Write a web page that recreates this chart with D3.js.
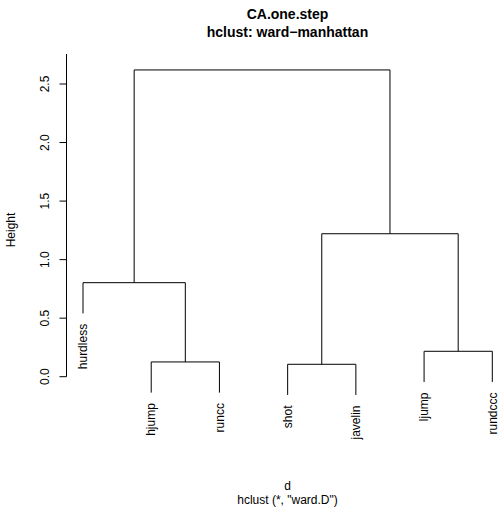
<!DOCTYPE html>
<html>
<head>
<meta charset="utf-8">
<script src="https://cdn.jsdelivr.net/npm/d3@7/dist/d3.min.js"></script>
<style>
  html, body { margin: 0; padding: 0; background: #fff; }
  svg { display: block; font-family: "Liberation Sans", Arial, Helvetica, sans-serif; }
</style>
</head>
<body>
<svg id="chart" width="499" height="527"></svg>
<script>
// ---- data (R hclust style) ----
const labels = ["hurdless", "hjump", "runcc", "shot", "javelin", "ljump", "rundccc"];
// merge matrix: negative = leaf index (1-based), positive = earlier merge step
const mergeLeft  = [-4, -2, -6, -1, 1, 4];
const mergeRight = [-5, -3, -7,  2, 3, 5];
const mergeHeight = [0.106, 0.126, 0.217, 0.803, 1.221, 2.62];
const yTicks = [0.0, 0.5, 1.0, 1.5, 2.0, 2.5];
const titleLines = ["CA.one.step", "hclust: ward\u2212manhattan"];
const xLabel = "d";
const subLabel = "hclust (*, \"ward.D\")";
const yLabel = "Height";

// ---- build hierarchy ----
function buildNode(ref) {
  if (ref < 0) return { name: labels[-ref - 1], leafIndex: -ref - 1, height: null };
  const i = ref - 1;
  return { name: "m" + ref, height: mergeHeight[i],
           children: [buildNode(mergeLeft[i]), buildNode(mergeRight[i])] };
}
const root = d3.hierarchy(buildNode(mergeHeight.length));

const svg = d3.select("#chart");
const x = d3.scaleLinear().domain([0, labels.length - 1]).range([83, 492.3]);
const y = d3.scaleLinear().domain([0, 2.5]).range([376.7, 84.0]);
const hang = 0.1 * d3.max(mergeHeight);

// x positions: leaves by index, internal nodes at midpoint of children
root.eachAfter(n => {
  if (!n.children) n.px = x(n.data.leafIndex);
  else n.px = (n.children[0].px + n.children[1].px) / 2;
});

const g = svg.append("g");
root.each(n => {
  if (!n.children) return;
  const hy = y(n.data.height);
  const [a, b] = n.children;
  g.append("line").attr("x1", a.px).attr("x2", b.px).attr("y1", hy).attr("y2", hy)
    .attr("stroke", "#000").attr("stroke-width", 1);
  [a, b].forEach(c => {
    const cy = c.children ? y(c.data.height) : y(n.data.height - hang);
    g.append("line").attr("x1", c.px).attr("x2", c.px).attr("y1", hy).attr("y2", cy)
      .attr("stroke", "#000").attr("stroke-width", 1);
    if (!c.children) {
      g.append("text")
        .attr("transform", `translate(${c.px},${cy + 10.5}) rotate(-90)`)
        .attr("text-anchor", "end")
        .attr("dy", "0.35em")
        .attr("font-size", 12)
        .attr("fill", "#000")
        .text(c.data.name);
    }
  });
});

// y axis
const axisX = 66.5;
const ax = svg.append("g").attr("transform", `translate(${axisX},0)`);
ax.append("line").attr("x1", 0).attr("x2", 0).attr("y1", 54).attr("y2", y(0))
  .attr("stroke", "#000");
yTicks.forEach(t => {
  ax.append("line").attr("x1", -7).attr("x2", 0).attr("y1", y(t)).attr("y2", y(t))
    .attr("stroke", "#000");
  ax.append("text")
    .attr("transform", `translate(-17.5,${y(t)}) rotate(-90)`)
    .attr("text-anchor", "middle")
    .attr("font-size", 12)
    .text(d3.format(".1f")(t));
});

// titles
const cx = 287.5;
svg.append("text").attr("x", cx).attr("y", 19).attr("text-anchor", "middle")
  .attr("font-size", 14).attr("font-weight", "bold").text(titleLines[0]);
svg.append("text").attr("x", cx).attr("y", 36.5).attr("text-anchor", "middle")
  .attr("font-size", 14).attr("font-weight", "bold").text(titleLines[1]);

svg.append("text").attr("transform", `translate(15,230) rotate(-90)`)
  .attr("text-anchor", "middle").attr("font-size", 12).text(yLabel);

svg.append("text").attr("x", cx).attr("y", 490).attr("text-anchor", "middle")
  .attr("font-size", 12).text(xLabel);
svg.append("text").attr("x", cx).attr("y", 504).attr("text-anchor", "middle")
  .attr("font-size", 12).text(subLabel);
</script>
</body>
</html>
